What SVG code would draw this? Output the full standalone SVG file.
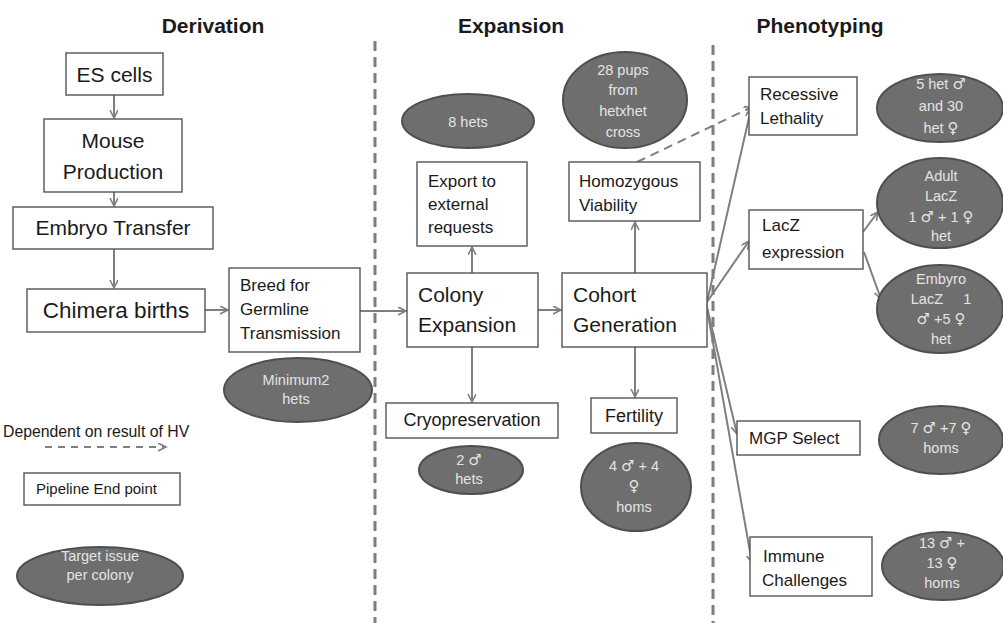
<svg xmlns="http://www.w3.org/2000/svg" width="1003" height="623" viewBox="0 0 1003 623">
<defs>
<marker id="arr" markerWidth="10" markerHeight="10" refX="8" refY="4" orient="auto" markerUnits="userSpaceOnUse">
<path d="M0,0 L8,4 L0,8" fill="none" stroke="#7f7f7f" stroke-width="1.6"/>
</marker>
<style>
text{font-family:"Liberation Sans",Arial,"DejaVu Sans",sans-serif;fill:#1a1a1a}
.title{font-weight:bold;font-size:21px;text-anchor:middle}
.box{fill:#fff;stroke:#555;stroke-width:1.4}
.ell{fill:#6e6e6e;stroke:#4f4f4f;stroke-width:2}
.et{fill:#e4e4e4;font-size:14.5px;text-anchor:middle}
.s{font-family:"DejaVu Sans",sans-serif;font-size:15px}
.c{text-anchor:middle}
.big{font-size:21px}
.mid{font-size:17px}
.sm{font-size:15px}
.con{stroke:#7f7f7f;stroke-width:2;fill:none;marker-end:url(#arr)}
.sep{stroke:#7f7f7f;stroke-width:3;stroke-dasharray:10,6;fill:none}
</style>
</defs>
<rect width="1003" height="623" fill="#fff"/>
<g id="titles">
<text class="title" x="213" y="33">Derivation</text>
<text class="title" x="511" y="33">Expansion</text>
<text class="title" x="820" y="33">Phenotyping</text>
</g>
<g id="separators">
<line class="sep" x1="375" y1="41" x2="375" y2="623"/>
<line class="sep" x1="713" y1="45" x2="713" y2="623"/>
</g>
<g id="connectors">
<line class="con" x1="114" y1="95" x2="114" y2="118"/>
<line class="con" x1="114" y1="192" x2="114" y2="206"/>
<line class="con" x1="114" y1="249" x2="114" y2="288"/>
<line class="con" x1="205" y1="310" x2="228" y2="310"/>
<line class="con" x1="360" y1="311" x2="406" y2="311"/>
<line class="con" x1="538" y1="310" x2="561" y2="310"/>
<line class="con" x1="472" y1="273" x2="472" y2="247"/>
<line class="con" x1="472" y1="347" x2="472" y2="402"/>
<line class="con" x1="635" y1="273" x2="635" y2="222"/>
<line class="con" x1="635" y1="347" x2="635" y2="397"/>
<line class="con" x1="637" y1="162" x2="752" y2="107" stroke-dasharray="9,6"/>
<line class="con" x1="707" y1="302" x2="751" y2="109"/>
<line class="con" x1="707" y1="302" x2="749" y2="241"/>
<line class="con" x1="706" y1="303" x2="737" y2="434"/>
<line class="con" x1="706" y1="303" x2="752" y2="563"/>
<line class="con" x1="863" y1="232" x2="878" y2="212"/>
<line class="con" x1="864" y1="252" x2="881" y2="299"/>
</g>
<g id="es-cells"><rect class="box" x="66" y="53" width="97" height="42"/><text class="c big" x="114.5" y="82">ES cells</text></g>
<g id="mouse-production"><rect class="box" x="44" y="119" width="138" height="73"/><text class="c big" x="113" y="148">Mouse</text><text class="c big" x="113" y="179">Production</text></g>
<g id="embryo-transfer"><rect class="box" x="13" y="207" width="200" height="42"/><text class="c big" x="113" y="235">Embryo Transfer</text></g>
<g id="chimera-births"><rect class="box" x="27" y="289" width="178" height="43"/><text class="c" x="116" y="318" font-size="22.5">Chimera births</text></g>
<g id="breed-germline"><rect class="box" x="229" y="268" width="131" height="84"/><text class="mid" x="240" y="291">Breed for</text><text class="mid" x="240" y="315">Germline</text><text class="mid" x="240" y="339">Transmission</text></g>
<g id="minimum2-hets"><ellipse class="ell" cx="298" cy="390" rx="74" ry="32"/><text class="et" x="296" y="385">Minimum2</text><text class="et" x="296" y="404">hets</text></g>
<g id="legend-dependent"><text x="3" y="437" font-size="15.8">Dependent on result of HV</text><line class="con" x1="45" y1="447" x2="166" y2="447" stroke-dasharray="7,6"/></g>
<g id="legend-endpoint"><rect class="box" x="24" y="473" width="156" height="32"/><text class="sm" x="36" y="494">Pipeline End point</text></g>
<g id="legend-target"><ellipse class="ell" cx="100" cy="576" rx="83" ry="29"/><text class="et" x="100" y="561" font-size="15.5">Target issue</text><text class="et" x="100" y="580" font-size="15.5">per colony</text></g>
<g id="colony-expansion"><rect class="box" x="407" y="273" width="131" height="74"/><text class="big" x="418" y="302">Colony</text><text class="big" x="418" y="332">Expansion</text></g>
<g id="export"><rect class="box" x="417" y="162" width="110" height="84"/><text class="mid" x="428" y="187">Export to</text><text class="mid" x="428" y="210">external</text><text class="mid" x="428" y="233">requests</text></g>
<g id="hets8"><ellipse class="ell" cx="468" cy="121" rx="66" ry="27"/><text class="et" x="468" y="127">8 hets</text></g>
<g id="cryopreservation"><rect class="box" x="386" y="403" width="172" height="35"/><text class="c" x="472" y="426" font-size="18">Cryopreservation</text></g>
<g id="male2-hets"><ellipse class="ell" cx="471" cy="470" rx="52" ry="24"/><text class="et" x="469" y="465">2 <tspan class="s">♂</tspan></text><text class="et" x="469" y="484">hets</text></g>
<g id="cohort-generation"><rect class="box" x="562" y="273" width="145" height="74"/><text class="big" x="573" y="302">Cohort</text><text class="big" x="573" y="332">Generation</text></g>
<g id="homozygous-viability"><rect class="box" x="569" y="162" width="131" height="59"/><text class="mid" x="579" y="187">Homozygous</text><text class="mid" x="579" y="211">Viability</text></g>
<g id="pups28"><ellipse class="ell" cx="625" cy="100" rx="62" ry="48"/><text class="et" x="623" y="75">28 pups</text><text class="et" x="623" y="95">from</text><text class="et" x="623" y="116">hetxhet</text><text class="et" x="623" y="137">cross</text></g>
<g id="fertility"><rect class="box" x="591" y="398" width="86" height="35"/><text class="c" x="634" y="422" font-size="18">Fertility</text></g>
<g id="fertility-homs"><ellipse class="ell" cx="636" cy="487" rx="55" ry="44"/><text class="et" x="634" y="471">4 <tspan class="s">♂</tspan> + 4</text><text class="et" x="634" y="491"><tspan class="s">♀</tspan></text><text class="et" x="634" y="512">homs</text></g>
<g id="recessive-lethality"><rect class="box" x="749" y="77" width="108" height="58"/><text class="mid" x="760" y="100">Recessive</text><text class="mid" x="760" y="124">Lethality</text></g>
<g id="rl-target"><ellipse class="ell" cx="940" cy="108" rx="63" ry="34"/><text class="et" x="941" y="89">5 het <tspan class="s">♂</tspan></text><text class="et" x="941" y="111">and 30</text><text class="et" x="941" y="133">het <tspan class="s">♀</tspan></text></g>
<g id="lacz-expression"><rect class="box" x="749" y="210" width="114" height="59"/><text class="mid" x="762" y="231">LacZ</text><text class="mid" x="762" y="258">expression</text></g>
<g id="adult-lacz"><ellipse class="ell" cx="940" cy="203" rx="63" ry="45"/><text class="et" x="941" y="181">Adult</text><text class="et" x="941" y="201">LacZ</text><text class="et" x="941" y="222">1 <tspan class="s">♂</tspan> + 1 <tspan class="s">♀</tspan></text><text class="et" x="941" y="241">het</text></g>
<g id="embryo-lacz"><ellipse class="ell" cx="940" cy="309" rx="63" ry="44"/><text class="et" x="941" y="284">Embyro</text><text class="et" x="941" y="304" xml:space="preserve">LacZ     1</text><text class="et" x="941" y="324"><tspan class="s">♂</tspan> +5 <tspan class="s">♀</tspan></text><text class="et" x="941" y="344">het</text></g>
<g id="mgp-select"><rect class="box" x="737" y="421" width="123" height="34"/><text class="mid" x="749" y="444">MGP Select</text></g>
<g id="mgp-homs"><ellipse class="ell" cx="941" cy="440" rx="62" ry="34"/><text class="et" x="941" y="433">7 <tspan class="s">♂</tspan> +7 <tspan class="s">♀</tspan></text><text class="et" x="941" y="453">homs</text></g>
<g id="immune-challenges"><rect class="box" x="750" y="537" width="122" height="59"/><text class="mid" x="763" y="562">Immune</text><text class="mid" x="762" y="586">Challenges</text></g>
<g id="immune-homs"><ellipse class="ell" cx="943" cy="566" rx="61" ry="34"/><text class="et" x="942" y="548">13 <tspan class="s">♂</tspan> +</text><text class="et" x="942" y="568">13 <tspan class="s">♀</tspan></text><text class="et" x="942" y="588">homs</text></g>
</svg>
